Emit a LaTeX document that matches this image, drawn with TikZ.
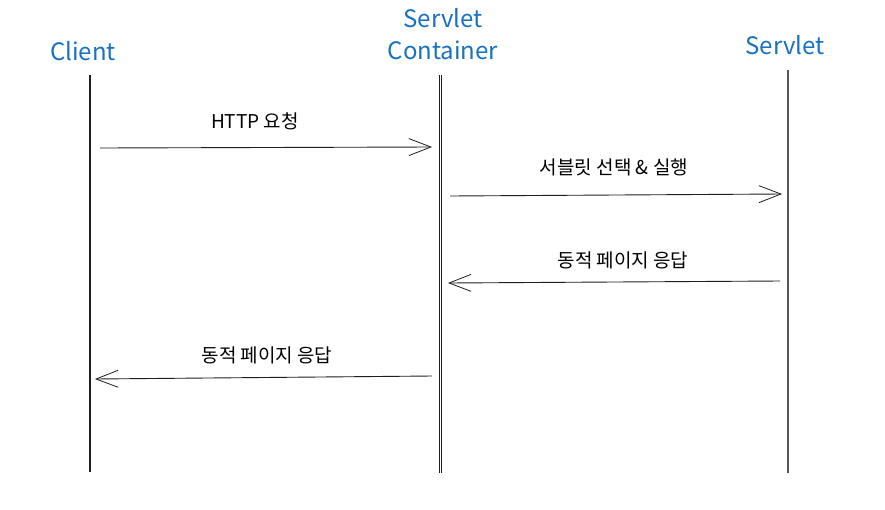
\documentclass[tikz,border=0pt]{standalone}
\usepackage{fontspec}
\setmainfont{Noto Sans CJK KR}
\usetikzlibrary{arrows.meta}
\definecolor{headblue}{HTML}{1971C2}
\definecolor{linegray}{HTML}{1E1E1E}
\tikzset{
  head/.style={text=headblue, font=\fontsize{24}{32}\selectfont, align=center, inner sep=0pt},
  msg/.style={text=black, font=\fontsize{19}{22}\selectfont, inner sep=0pt},
  lifeline/.style={draw=linegray, line width=1.6pt},
  msgarrow/.style={draw=linegray, line width=0.9pt, -{Straight Barb[length=22pt,width=17pt,line width=0.8pt]}},
}
\begin{document}
\begin{tikzpicture}[x=1pt,y=-1pt]
\useasboundingbox[fill=white] (0,0) rectangle (885,509);
% heads
\node[head] (hc) at (83,51) {Client};
\node[head] (hsc) at (443,34) {Servlet\\Container};
\node[head] (hs) at (785,45) {Servlet};
% lifeline ends
\coordinate (c1) at (90,75); \coordinate (c2) at (90,472);
\coordinate (sc1) at (440,75); \coordinate (sc2) at (440,473);
\coordinate (s1) at (788,70); \coordinate (s2) at (788,473);
\draw[lifeline] (c1) -- (c2);
\draw[draw=linegray, line width=0.6pt] ([xshift=-1.2]sc1) -- ([xshift=-1.2]sc2);
\draw[draw=linegray, line width=0.6pt] ([xshift=1.2]sc1) -- ([xshift=1.2]sc2);
\draw[draw=linegray!75, line width=1.3pt] (s1) -- (s2);
% message endpoints
\coordinate (a1s) at (100,148); \coordinate (a1e) at (432,147);
\coordinate (a2s) at (450,196); \coordinate (a2e) at (782,194);
\coordinate (a3s) at (780,281); \coordinate (a3e) at (448,283);
\coordinate (a4s) at (432,376); \coordinate (a4e) at (95,379);
\draw[msgarrow] (a1s) -- (a1e);
\draw[msgarrow] (a2s) -- (a2e);
\draw[msgarrow] (a3s) -- (a3e);
\draw[msgarrow] (a4s) -- (a4e);
% labels
\node[msg] (l1) at (255,121) {HTTP 요청};
\node[msg] (l2) at (614,167) {서블릿 선택 \& 실행};
\node[msg] (l3) at (623,260) {동적 페이지 응답};
\node[msg] (l4) at (267,355) {동적 페이지 응답};
\end{tikzpicture}
\end{document}
